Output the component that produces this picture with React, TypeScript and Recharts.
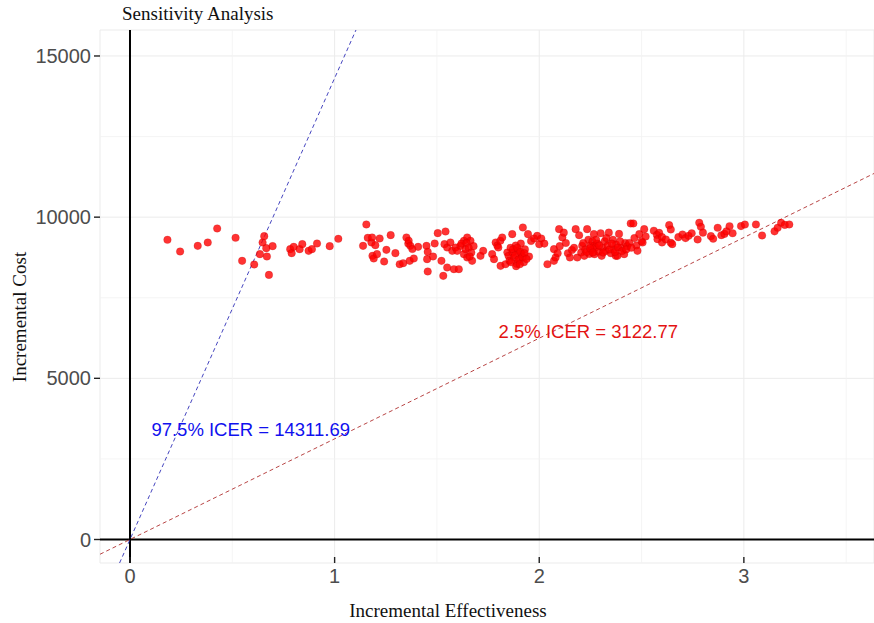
import { ScatterChart, Scatter, XAxis, YAxis, CartesianGrid, ReferenceLine } from 'recharts'

// PSA results (incremental effectiveness, incremental cost)
const incEffect = [
  0.183, 0.245, 0.331, 0.38, 0.426, 0.516, 0.548, 0.607, 0.635, 0.648, 0.656, 0.666, 0.669, 0.679, 0.697,
  0.783, 0.79, 0.8, 0.829, 0.842, 0.873, 0.889, 0.914, 0.976, 1.018,
  1.139, 1.155, 1.162, 1.18, 1.183, 1.185, 1.191, 1.199, 1.207, 1.22, 1.242, 1.253, 1.274, 1.297, 1.318,
  1.335, 1.351, 1.36, 1.362, 1.367, 1.37, 1.38, 1.387, 1.408, 1.449, 1.452, 1.455, 1.455, 1.481, 1.489, 1.504,
  1.522, 1.531, 1.537, 1.542, 1.55, 1.55, 1.566, 1.575, 1.583, 1.591, 1.599, 1.607, 1.615, 1.632, 1.632,
  1.64, 1.648, 1.648, 1.664, 1.672, 1.679, 1.713, 1.726, 1.77, 1.779, 1.787, 1.795, 1.8, 1.811, 1.81,
  1.819, 1.835, 1.844, 1.85, 1.855, 1.86, 1.868, 1.87, 1.877, 1.885, 1.89, 1.895, 1.903, 1.91, 1.915,
  1.92, 1.925, 1.93, 1.945, 1.95, 1.96, 1.975, 1.99, 2.0, 2.01, 2.025, 2.04,
  2.072, 2.072, 2.08, 2.09, 2.097, 2.1, 2.113, 2.12, 2.13, 2.14, 2.15, 2.16, 2.17, 2.178, 2.186, 2.195,
  2.205, 2.21, 2.22, 2.225, 2.234, 2.24, 2.245, 2.25, 2.255, 2.26, 2.267, 2.268, 2.27, 2.275, 2.285, 2.29,
  2.3, 2.305, 2.31, 2.32, 2.325, 2.335, 2.34, 2.35, 2.36, 2.365, 2.374, 2.375, 2.382, 2.39, 2.4, 2.415,
  2.42, 2.43, 2.447, 2.46, 2.465, 2.475, 2.48, 2.489, 2.5, 2.505, 2.513, 2.52,
  2.56, 2.575, 2.578, 2.586, 2.6, 2.6, 2.619, 2.635, 2.643, 2.643, 2.65, 2.68, 2.7, 2.715, 2.73, 2.745,
  2.774, 2.782, 2.79, 2.8, 2.839, 2.85, 2.872, 2.89, 2.905, 2.915, 2.93, 2.945, 2.986, 3.005, 3.059,
  3.089, 3.15, 3.165, 3.182, 3.2, 3.222,
  1.62, 1.645, 1.655, 1.668, 1.66,
  1.862, 1.872, 1.882, 1.893, 1.898, 1.908, 1.918, 1.928, 1.938, 1.887, 1.905,
  2.215, 2.232, 2.248, 2.262, 2.278, 2.293, 2.312, 2.328, 2.345, 2.355, 2.37, 2.385, 2.395, 2.405, 2.425,
  2.44, 2.45,
]
const incCost = [
  9297, 8935, 9110, 9215, 9650, 9359, 8645, 8532, 8852, 9215, 9411, 9038, 8780, 8209, 9100,
  9007, 8883, 9079, 9007, 9162, 8955, 9007, 9183, 9100, 9328,
  9110, 9774, 9359, 9215, 9370, 8800, 8718, 9131, 8852, 9340, 8625, 8986, 9442, 8883, 8541,
  8572, 9370, 9180, 9266, 8645, 9110, 9010, 8718, 9079, 9110, 8697, 8924, 8315, 8780, 9183, 9504,
  8645, 8179, 9163, 9556, 9059, 8439, 9215, 8955, 8386, 9059, 8955, 8386, 9110, 9266, 8852,
  9007, 9370, 8749, 9266, 8645, 9100, 8800, 8955, 8852, 8697, 9215, 9120, 9060, 8489, 9270,
  9370, 8541, 8904, 8800, 8650, 9050, 9473, 8900, 8750, 9120, 8550, 8960, 8700, 9180, 8850,
  9680, 8600, 9000, 9473, 8780, 9260, 9340, 9421, 9160, 9340, 9180, 8541,
  9007, 8645, 8749, 8880, 9628, 9100, 9370, 9520, 9200, 8880, 8750, 8980, 9050, 9628, 8749, 9440,
  8900, 9110, 8800, 9000, 9628, 9300, 8860, 9120, 8980, 9250, 9473, 9110, 8850, 9060, 9180, 8930,
  9500, 8800, 9050, 9250, 8950, 9120, 9520, 8880, 9300, 9000, 8800, 9150, 8800, 9480, 9050, 8852,
  9200, 9100, 9805, 9805, 9350, 9120, 8955, 9473, 9250, 9215, 9628, 9400,
  9580, 9450, 9318, 9514, 9380, 9215, 9308, 9752, 9618, 9204, 9163, 9380, 9463, 9350, 9420, 9500,
  9308, 9825, 9700, 9520, 9411, 9330, 9670, 9440, 9480, 9560, 9720, 9500, 9722, 9770, 9774,
  9433, 9560, 9670, 9825, 9760, 9774,
  9180, 9200, 9050, 8900, 8780,
  8600, 9000, 8820, 9050, 8680, 8920, 8760, 8880, 8700, 8480, 8540,
  9200, 8920, 9040, 8900, 9300, 9120, 8900, 9350, 9000, 9180, 8920, 9060, 9250, 8950, 9000,
  9200, 9050,
]

// ICER bounds used for the dashed lines and their labels
const icerUpper = 14311.69
const icerLower = 3122.77
const icerNotes = [
  { x: 0.59, y: 3430, text: '97.5% ICER = 14311.69', color: '#1010ee' },
  { x: 2.24, y: 6450, text: '2.5% ICER = 3122.77', color: '#e31212' },
]

const xTicks = [0, 1, 2, 3]
const yTicks = [0, 5000, 10000, 15000]
const xMinor = [0.5, 1.5, 2.5, 3.5]
const yMinor = [2500, 7500, 12500]

const xDomain: [number, number] = [-0.1466, 3.636]
const yDomain: [number, number] = [-729, 15806]

const points = incEffect.map((x, i) => ({ x, y: incCost[i] }))

const serif = '"Liberation Serif", "DejaVu Serif", serif'
const sans = '"Liberation Sans", Arial, sans-serif'

const Dot = (props: any) => (
  <circle cx={props.cx} cy={props.cy} r={3.8} fill="#ff0000" fillOpacity={0.8} stroke="#b00000" strokeOpacity={0.35} strokeWidth={0.6} />
)

const Note = (props: any) => (
  <text x={props.cx} y={props.cy} dy="0.36em" textAnchor="middle" fill={props.payload.color} fontSize={18.5} fontFamily={sans}>
    {props.payload.text}
  </text>
)

export default function App() {
  return (
    <div style={{ position: 'absolute', left: 0, top: 0, width: 874, height: 623, background: '#fff' }}>
      <div style={{ position: 'absolute', left: 122, top: 3, fontFamily: serif, fontSize: 19, color: '#111', whiteSpace: 'nowrap' }}>
        Sensitivity Analysis
      </div>
      <ScatterChart width={874} height={623} margin={{ top: 30, right: 0, bottom: 0, left: 0 }}>
        <CartesianGrid stroke="#ebebeb" strokeWidth={1} />
        {xMinor.map((v) => (
          <ReferenceLine key={'xm' + v} x={v} stroke="#f3f3f3" strokeWidth={0.8} />
        ))}
        {yMinor.map((v) => (
          <ReferenceLine key={'ym' + v} y={v} stroke="#f3f3f3" strokeWidth={0.8} />
        ))}
        <XAxis
          type="number"
          dataKey="x"
          domain={xDomain}
          ticks={xTicks}
          allowDataOverflow
          height={60}
          axisLine={false}
          tickSize={-6}
          tickMargin={12}
          tickLine={{ stroke: '#222', strokeWidth: 1.4 }}
          tick={{ fill: '#4d4d4d', fontSize: 20, fontFamily: sans }}
          label={{
            content: () => (
              <text x={448} y={617} textAnchor="middle" fontFamily={serif} fontSize={19} fill="#111">
                Incremental Effectiveness
              </text>
            ),
          }}
        />
        <YAxis
          type="number"
          dataKey="y"
          domain={yDomain}
          ticks={yTicks}
          allowDataOverflow
          width={100}
          axisLine={false}
          tickSize={6}
          tickMargin={3}
          tickLine={{ stroke: '#222', strokeWidth: 1.4 }}
          tick={{ fill: '#4d4d4d', fontSize: 20, fontFamily: sans }}
          label={{
            content: () => (
              <text x={26} y={317} textAnchor="middle" transform="rotate(-90 26 317)" fontFamily={serif} fontSize={19} fill="#111">
                Incremental Cost
              </text>
            ),
          }}
        />
        <ReferenceLine x={0} stroke="#000" strokeWidth={2} />
        <ReferenceLine y={0} stroke="#000" strokeWidth={2} />
        <ReferenceLine
          segment={[
            { x: yDomain[0] / icerUpper, y: yDomain[0] },
            { x: yDomain[1] / icerUpper, y: yDomain[1] },
          ]}
          stroke="#3030b8"
          strokeWidth={0.9}
          strokeDasharray="4 3"
        />
        <ReferenceLine
          segment={[
            { x: xDomain[0], y: xDomain[0] * icerLower },
            { x: xDomain[1], y: xDomain[1] * icerLower },
          ]}
          stroke="#b03030"
          strokeWidth={0.9}
          strokeDasharray="4 3"
        />
        <Scatter data={points} shape={Dot} isAnimationActive={false} />
        <Scatter data={icerNotes} shape={Note} isAnimationActive={false} />
      </ScatterChart>
    </div>
  )
}
